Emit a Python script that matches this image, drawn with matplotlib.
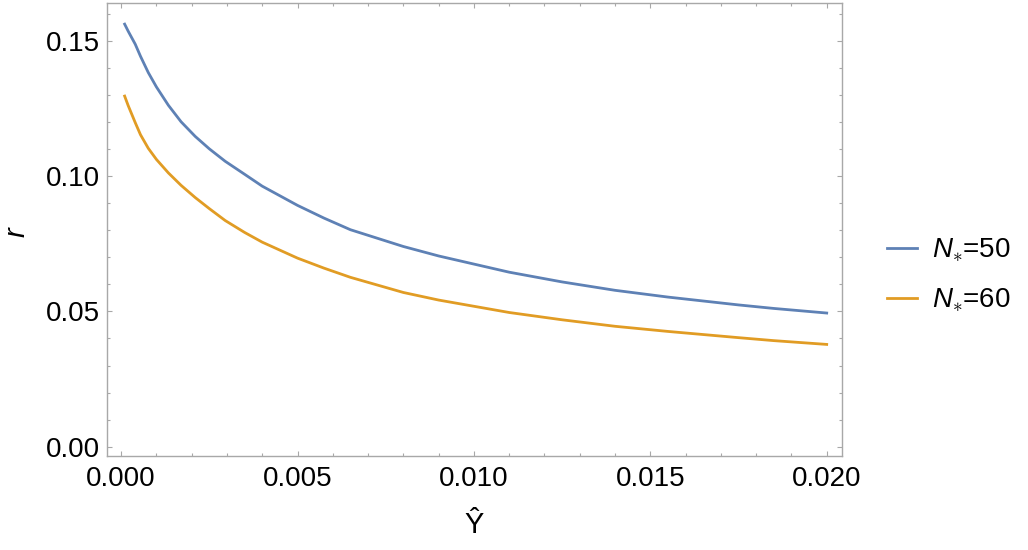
import matplotlib
matplotlib.use("Agg")
import matplotlib.pyplot as plt
from matplotlib.ticker import MultipleLocator, FormatStrFormatter

plt.rcParams['font.family'] = ['Liberation Sans', 'DejaVu Sans']
plt.rcParams['mathtext.fontset'] = 'custom'
plt.rcParams['mathtext.rm'] = 'Liberation Sans'
plt.rcParams['mathtext.it'] = 'Liberation Sans:italic'
plt.rcParams['mathtext.sf'] = 'DejaVu Sans'

# Data
Y_hat = [0.0001, 0.0002, 0.0004, 0.00055, 0.00077, 0.001, 0.00134, 0.0017, 0.0021,
         0.0025, 0.00295, 0.0035, 0.004, 0.005, 0.00575, 0.0065,
         0.008, 0.009, 0.011, 0.0125, 0.014, 0.0155, 0.0175, 0.0185, 0.020]
r_N50 = [0.1562, 0.1536, 0.1488, 0.1443, 0.1383, 0.1330, 0.1262, 0.1201, 0.1147,
         0.1101, 0.1055, 0.1007, 0.0963, 0.0892, 0.0845, 0.0802,
         0.0740, 0.0705, 0.0645, 0.0609, 0.0578, 0.0553, 0.0524, 0.0511, 0.0494]
r_N60 = [0.1296, 0.1261, 0.1198, 0.1153, 0.1103, 0.1062, 0.1012, 0.0966, 0.0921,
         0.0880, 0.0836, 0.0792, 0.0756, 0.0697, 0.0660, 0.0626,
         0.0570, 0.0542, 0.0496, 0.0469, 0.0445, 0.0426, 0.0403, 0.0392, 0.0378]
labels = [r"$N_{\ast}$=50", r"$N_{\ast}$=60"]
colors = ["#5E81B5", "#E19C24"]

fig = plt.figure(figsize=(10.28, 5.5), dpi=100)
ax = fig.add_axes([107/1028, 1 - 456.3/550, 734.7/1028, 453/550])

ax.plot(Y_hat, r_N50, color=colors[0], lw=2.0, label=labels[0])
ax.plot(Y_hat, r_N60, color=colors[1], lw=2.0, label=labels[1])

ax.set_xlim(-0.0004, 0.020425)
ax.set_ylim(-0.00356, 0.1639)

ax.xaxis.set_major_locator(MultipleLocator(0.005))
ax.xaxis.set_minor_locator(MultipleLocator(0.001))
ax.yaxis.set_major_locator(MultipleLocator(0.05))
ax.yaxis.set_minor_locator(MultipleLocator(0.01))
ax.xaxis.set_major_formatter(FormatStrFormatter('%.3f'))
ax.yaxis.set_major_formatter(FormatStrFormatter('%.2f'))

grey = "#a8a8a8"
for s in ax.spines.values():
    s.set_color(grey)
    s.set_linewidth(1.0)
ax.tick_params(which='both', direction='in', top=True, right=True, color=grey, width=0.8)
ax.tick_params(which='major', length=3.5, labelsize=20, labelcolor='black')
ax.tick_params(axis='x', which='major', pad=7)
ax.tick_params(axis='y', which='major', pad=5)
ax.tick_params(which='minor', length=2.0)

ax.set_xlabel("Ŷ", fontsize=21, labelpad=14)
fig.text(17/1028, 1 - 232/550, "r", fontsize=21, style='italic', rotation=90,
         ha='center', va='center')

leg = ax.legend(loc='center left', bbox_to_anchor=(1.0467, 0.399), frameon=False,
                fontsize=20, handlelength=1.08, handletextpad=0.55, labelspacing=0.8,
                borderaxespad=0)

fig.savefig("out.png", dpi=100)
